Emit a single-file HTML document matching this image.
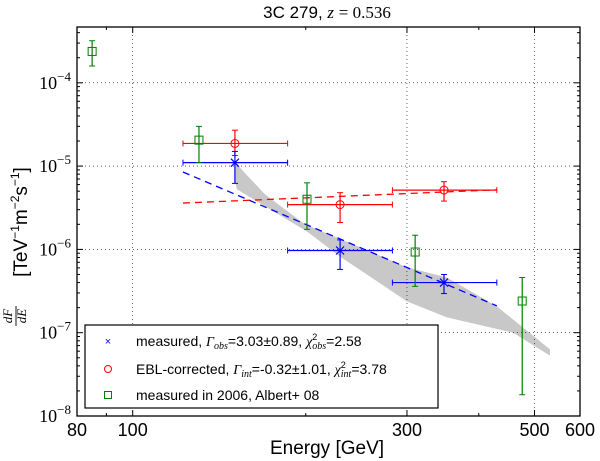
<!DOCTYPE html>
<html><head><meta charset="utf-8"><style>
body{margin:0;background:#fff;}
svg{display:block;}
text{font-family:"Liberation Sans",sans-serif;}
.serif{font-family:"Liberation Serif",serif;}
</style></head><body>
<svg id="chart" width="600" height="461" viewBox="0 0 600 461" xmlns="http://www.w3.org/2000/svg">
<rect x="0" y="0" width="600" height="461" fill="#fff"/>
<g id="band"></g>
<g id="grid"></g>
<g id="fits"></g>
<g id="marks"></g>
<g id="axes"></g>
<text x="327" y="18" text-anchor="middle" font-size="17">3C 279, <tspan class="serif" font-style="italic">z</tspan> <tspan class="serif">= 0.536</tspan></text>
<text x="327" y="454" text-anchor="middle" font-size="19">Energy [GeV]</text>
<g transform="translate(27,222) rotate(-90)">
<text x="0" y="0" text-anchor="middle" font-size="19">[TeV<tspan font-size="12" dy="-8">−1</tspan><tspan dy="8">m</tspan><tspan font-size="12" dy="-8">−2</tspan><tspan dy="8">s</tspan><tspan font-size="12" dy="-8">−1</tspan><tspan dy="8">]</tspan></text>
</g>
<g transform="translate(16,316) rotate(-90)">
<text class="serif" x="0" y="-4" text-anchor="middle" font-size="13" font-style="italic">dF</text>
<line x1="-10" y1="0" x2="10" y2="0" stroke="#000" stroke-width="0.9"/>
<text class="serif" x="0" y="10" text-anchor="middle" font-size="13" font-style="italic">dE</text>
</g>
<g>
<rect x="85" y="325" width="353" height="83" fill="#fff" stroke="#000" stroke-width="1.2"/>
<g>
<text x="108" y="345" text-anchor="middle" font-size="11" fill="#0000ff">×</text>
<text x="136" y="346" font-size="14">measured, <tspan class="serif" font-style="italic">Γ</tspan><tspan class="serif" font-style="italic" font-size="10" dy="3">obs</tspan><tspan dy="-3">=3.03±0.89, </tspan><tspan class="serif" font-style="italic">χ</tspan><tspan font-size="9" dy="-6">2</tspan><tspan class="serif" font-style="italic" font-size="10" dx="-5" dy="9">obs</tspan><tspan dy="-3">=2.58</tspan></text>
</g>
<g>
<circle cx="108" cy="369" r="3.5" fill="none" stroke="#ff0000"/>
<text x="136" y="374" font-size="14">EBL-corrected, <tspan class="serif" font-style="italic">Γ</tspan><tspan class="serif" font-style="italic" font-size="10" dy="3">int</tspan><tspan dy="-3">=-0.32±1.01, </tspan><tspan class="serif" font-style="italic">χ</tspan><tspan font-size="9" dy="-6">2</tspan><tspan class="serif" font-style="italic" font-size="10" dx="-5" dy="9">int</tspan><tspan dy="-3">=3.78</tspan></text>
</g>
<g>
<rect x="104.5" y="391.5" width="7" height="7" fill="none" stroke="#008000"/>
<text x="136" y="400" font-size="14">measured in 2006, Albert+ 08</text>
</g>
</g>
</svg>
<script>
const xTicks=[80,100,300,500,600];
const xMinor=[90,200,400];
const yDecades=[-8,-7,-6,-5,-4];
const measE=[150.6,229.5,348];
const measF=[1.1e-5,9.7e-7,4.0e-7];
const measElo=[122.3,186,283];
const measEhi=[186,283,430];
const measFlo=[6.2e-6,5.75e-7,2.95e-7];
const measFhi=[1.5e-5,1.3e-6,5.0e-7];
const eblE=[150.6,229.5,348];
const eblF=[1.87e-5,3.45e-6,5.15e-6];
const eblElo=[122.3,186,283];
const eblEhi=[186,283,430];
const eblFlo=[1.34e-5,2.1e-6,3.8e-6];
const eblFhi=[2.7e-5,4.8e-6,6.5e-6];
const albE=[85,130.4,201,310,476];
const albF=[2.38e-4,2.05e-5,4.0e-6,9.3e-7,2.4e-7];
const albFlo=[1.59e-4,1.1e-5,1.74e-6,3.6e-7,1.8e-8];
const albFhi=[3.2e-4,3.0e-5,6.3e-6,1.48e-6,4.6e-7];
const fitE=[122.3,430];
const measFitF=[8.5e-6,2.1e-7];
const eblFitF=[3.6e-6,5.2e-6];
const bandUpE=[150.6,169.9,199.4,248.6,300,352,430,532];
const bandUpF=[1.11e-5,4.57e-6,2.0e-6,1.06e-6,6.1e-7,4.6e-7,2.07e-7,6.3e-8];
const bandLoE=[532,459,352,300,229.5,201,151.9,150.6];
const bandLoF=[5.3e-8,1.0e-7,1.53e-7,2.38e-7,8.2e-7,1.64e-6,5.25e-6,6.5e-6];

const L=77,R=580,T=27,B=416;
const xmin=80,xmax=600,ymin=-8,ydec=83.3;
function X(e){return L+Math.log(e/xmin)/Math.log(xmax/xmin)*(R-L);}
function Y(f){return B-(Math.log10(f)-ymin)*ydec;}
const NS='http://www.w3.org/2000/svg';
function mk(tag,attrs,parent){const el=document.createElementNS(NS,tag);for(const k in attrs)el.setAttribute(k,attrs[k]);parent.appendChild(el);return el;}
const gBand=document.getElementById('band'),gGrid=document.getElementById('grid'),gFits=document.getElementById('fits'),gMarks=document.getElementById('marks'),gAxes=document.getElementById('axes');

let pts=[];
for(let i=0;i<bandUpE.length;i++)pts.push(X(bandUpE[i])+','+Y(bandUpF[i]));
for(let i=0;i<bandLoE.length;i++)pts.push(X(bandLoE[i])+','+Y(bandLoF[i]));
const band=mk('polygon',{points:pts.join(' '),fill:'#c8c8c8',stroke:'none'},gBand);



[100,300,500].forEach(v=>{const l=mk('line',{x1:X(v),x2:X(v),y1:T,y2:B,stroke:'#000','stroke-width':0.6,'stroke-dasharray':'1,3'},gGrid);

});
yDecades.forEach(d=>{if(d===-8)return;const y=Y(Math.pow(10,d));const l=mk('line',{x1:L,x2:R,y1:y,y2:y,stroke:'#000','stroke-width':0.6,'stroke-dasharray':'1,3'},gGrid);

});

const f1=mk('line',{x1:X(fitE[0]),y1:Y(measFitF[0]),x2:X(fitE[1]),y2:Y(measFitF[1]),stroke:'#0000ff','stroke-width':1.3,'stroke-dasharray':'7,5'},gFits);


const f2=mk('line',{x1:X(fitE[0]),y1:Y(eblFitF[0]),x2:X(fitE[1]),y2:Y(eblFitF[1]),stroke:'#ff0000','stroke-width':1.3,'stroke-dasharray':'7,5'},gFits);



function errbar(g,x1,y1,x2,y2,c,horiz){
  mk('line',{x1:x1,y1:y1,x2:x2,y2:y2,stroke:c,'stroke-width':1.2},g);
  if(horiz){mk('line',{x1:x1,x2:x1,y1:y1-3,y2:y1+3,stroke:c,'stroke-width':1},g);mk('line',{x1:x2,x2:x2,y1:y1-3,y2:y1+3,stroke:c,'stroke-width':1},g);}
  else{mk('line',{x1:x1-3,x2:x1+3,y1:y1,y2:y1,stroke:c,'stroke-width':1},g);mk('line',{x1:x2-3,x2:x2+3,y1:y2,y2:y2,stroke:c,'stroke-width':1},g);}
}
eblE.forEach((e,i)=>{const g=mk('g',{},gMarks);


const c='#ff0000',x=X(e),y=Y(eblF[i]);
errbar(g,X(eblElo[i]),y,X(eblEhi[i]),y,c,true);
errbar(g,x,Y(eblFlo[i]),x,Y(eblFhi[i]),c,false);
mk('circle',{cx:x,cy:y,r:4,fill:'none',stroke:c},g);});
measE.forEach((e,i)=>{const g=mk('g',{},gMarks);


const c='#0000ff',x=X(e),y=Y(measF[i]);
errbar(g,X(measElo[i]),y,X(measEhi[i]),y,c,true);
errbar(g,x,Y(measFlo[i]),x,Y(measFhi[i]),c,false);
mk('path',{d:`M${x-4},${y-4}L${x+4},${y+4}M${x-4},${y+4}L${x+4},${y-4}`,stroke:c,'stroke-width':1.2},g);});
albE.forEach((e,i)=>{const g=mk('g',{},gMarks);


const c='#008000',x=X(e),y=Y(albF[i]);
errbar(g,x,Y(albFlo[i]),x,Y(albFhi[i]),c,false);
mk('rect',{x:x-4,y:y-4,width:8,height:8,fill:'none',stroke:c},g);});

const fr=mk('rect',{x:L,y:T,width:R-L,height:B-T,fill:'none',stroke:'#000','stroke-width':1.3},gAxes);


xTicks.concat(xMinor).forEach(v=>{const x=X(v),len=xTicks.includes(v)?6:3;
mk('line',{x1:x,x2:x,y1:B,y2:B-len,stroke:'#000'},gAxes);mk('line',{x1:x,x2:x,y1:T,y2:T+len,stroke:'#000'},gAxes);});
xTicks.forEach(v=>{const t=mk('text',{x:X(v),y:B+20,'text-anchor':'middle','font-size':18},gAxes);t.textContent=v;

});
yDecades.forEach(d=>{const y=Y(Math.pow(10,d));
mk('line',{x1:L,x2:L+6,y1:y,y2:y,stroke:'#000'},gAxes);mk('line',{x1:R,x2:R-6,y1:y,y2:y,stroke:'#000'},gAxes);
for(let m=2;m<10;m++){const ym=Y(m*Math.pow(10,d));if(ym<T)break;mk('line',{x1:L,x2:L+3,y1:ym,y2:ym,stroke:'#000'},gAxes);mk('line',{x1:R,x2:R-3,y1:ym,y2:ym,stroke:'#000'},gAxes);}
const t=mk('text',{x:L-6,y:y+6,'text-anchor':'end','font-size':18,class:'serif'},gAxes);
t.innerHTML='10<tspan font-size="13" dy="-8">−'+(-d)+'</tspan>';

});
</script>
</body></html>
